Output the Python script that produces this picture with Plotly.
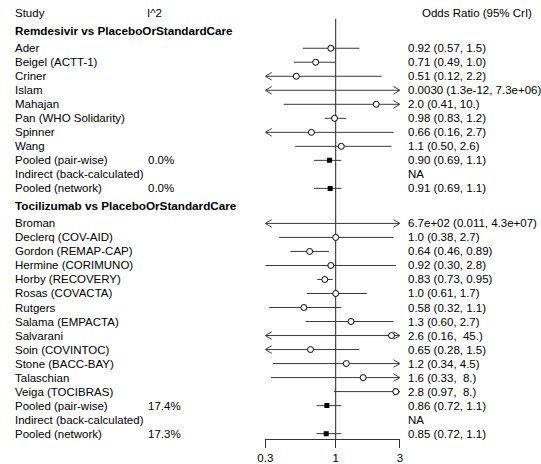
import math
import plotly.graph_objects as go

# ---------------- data ----------------
remd_studies = ["Ader", "Beigel (ACTT-1)", "Criner", "Islam", "Mahajan",
                "Pan (WHO Solidarity)", "Spinner", "Wang",
                "Pooled (pair-wise)", "Indirect (back-calculated)", "Pooled (network)"]
remd_or = [0.92, 0.71, 0.51, 0.0030, 2.0, 0.98, 0.66, 1.1, 0.90, None, 0.91]
remd_lo = [0.57, 0.49, 0.12, 1.3e-12, 0.41, 0.83, 0.16, 0.50, 0.69, None, 0.69]
remd_hi = [1.5, 1.0, 2.2, 7.3e6, 10.0, 1.2, 2.7, 2.6, 1.1, None, 1.1]
remd_i2 = ["", "", "", "", "", "", "", "", "0.0%", "", "0.0%"]
remd_txt = ["0.92 (0.57, 1.5)", "0.71 (0.49, 1.0)", "0.51 (0.12, 2.2)",
            "0.0030 (1.3e-12, 7.3e+06)", "2.0 (0.41, 10.)", "0.98 (0.83, 1.2)",
            "0.66 (0.16, 2.7)", "1.1 (0.50, 2.6)", "0.90 (0.69, 1.1)", "NA",
            "0.91 (0.69, 1.1)"]
remd_kind = ["study"] * 8 + ["pooled", "none", "pooled"]

toci_studies = ["Broman", "Declerq (COV-AID)", "Gordon (REMAP-CAP)", "Hermine (CORIMUNO)",
                "Horby (RECOVERY)", "Rosas (COVACTA)", "Rutgers", "Salama (EMPACTA)",
                "Salvarani", "Soin (COVINTOC)", "Stone (BACC-BAY)", "Talaschian",
                "Veiga (TOCIBRAS)", "Pooled (pair-wise)", "Indirect (back-calculated)",
                "Pooled (network)"]
toci_or = [670.0, 1.0, 0.64, 0.92, 0.83, 1.0, 0.58, 1.3, 2.6, 0.65, 1.2, 1.6, 2.8, 0.86, None, 0.85]
toci_lo = [0.011, 0.38, 0.46, 0.30, 0.73, 0.61, 0.32, 0.60, 0.16, 0.28, 0.34, 0.33, 0.97, 0.72, None, 0.72]
toci_hi = [4.3e7, 2.7, 0.89, 2.8, 0.95, 1.7, 1.1, 2.7, 45.0, 1.5, 4.5, 8.0, 8.0, 1.1, None, 1.1]
toci_i2 = [""] * 13 + ["17.4%", "", "17.3%"]
toci_txt = ["6.7e+02 (0.011, 4.3e+07)", "1.0 (0.38, 2.7)", "0.64 (0.46, 0.89)",
            "0.92 (0.30, 2.8)", "0.83 (0.73, 0.95)", "1.0 (0.61, 1.7)", "0.58 (0.32, 1.1)",
            "1.3 (0.60, 2.7)", "2.6 (0.16,\u00a0\u00a045.)", "0.65 (0.28, 1.5)",
            "1.2 (0.34, 4.5)", "1.6 (0.33,\u00a0\u00a08.)", "2.8 (0.97,\u00a0\u00a08.)",
            "0.86 (0.72, 1.1)", "NA", "0.85 (0.72, 1.1)"]
toci_kind = ["study"] * 13 + ["pooled", "none", "pooled"]

groups = [
    ("Remdesivir vs PlaceboOrStandardCare", remd_studies, remd_or, remd_lo, remd_hi, remd_i2, remd_txt, remd_kind),
    ("Tocilizumab vs PlaceboOrStandardCare", toci_studies, toci_or, toci_lo, toci_hi, toci_i2, toci_txt, toci_kind),
]

x_ticks = [0.3, 1, 3]
x_tick_labels = ["0.3", "1", "3"]
x_min, x_max = 0.3, 3.0

# ---------------- layout constants ----------------
W, H = 541, 464
FONT = "Liberation Sans, Arial, sans-serif"
FS = 11.5
FS_BOLD = 11.7
HEADER_GAP = 1.25
PX_PER_ROW = 14.11
TOP_PX = 13.3
BOTTOM_MARGIN = 22
x_left_px, x_right_px = 262.7, 400.0
col_study_px, col_i2_px, col_or_px = 7.0, 143.0, 408.0
ARROW_DX = 10 ** (6.5 / (x_right_px - x_left_px))  # ~6.5 px in log scale
ARROW_DY = 0.27

plot_h = H - BOTTOM_MARGIN
y_top = -TOP_PX / PX_PER_ROW
y_bot = (plot_h - TOP_PX) / PX_PER_ROW

annotations = []
def txt(xpx, y, s, bold=False):
    annotations.append(dict(
        x=xpx / W, xref="paper", y=y, yref="y", text=("<b>%s</b>" % s) if bold else s,
        showarrow=False, xanchor="left", yanchor="middle", borderpad=0, borderwidth=0,
        font=dict(family=FONT, size=FS_BOLD if bold else FS, color="black")))

# header row
y = 0.0
txt(col_study_px, y, "Study")
txt(col_i2_px - 1, y, "I^2")
txt(col_or_px + 14.5, y, "Odds Ratio (95% CrI)")

ci_x, ci_y = [], []
arr_x, arr_y = [], []
st_x, st_y = [], []
pl_x, pl_y = [], []

for (title, names, ors, los, his, i2s, txts, kinds) in groups:
    y += HEADER_GAP
    txt(col_study_px, y, title, bold=True)
    y += HEADER_GAP
    for i, name in enumerate(names):
        if i > 0:
            y += 1
        txt(col_study_px, y, name)
        if i2s[i]:
            txt(col_i2_px, y, i2s[i])
        txt(col_or_px, y, txts[i])
        if kinds[i] == "none" or ors[i] is None:
            continue
        lo = max(los[i], x_min)
        hi = min(his[i], x_max)
        ci_x += [lo, hi, None]
        ci_y += [y, y, None]
        if los[i] < x_min:
            arr_x += [lo * ARROW_DX, lo, lo * ARROW_DX, None]
            arr_y += [y - ARROW_DY, y, y + ARROW_DY, None]
        if his[i] > x_max:
            arr_x += [hi / ARROW_DX, hi, hi / ARROW_DX, None]
            arr_y += [y - ARROW_DY, y, y + ARROW_DY, None]
        if x_min <= ors[i] <= x_max:
            if kinds[i] == "study":
                st_x.append(ors[i]); st_y.append(y)
            else:
                pl_x.append(ors[i]); pl_y.append(y)

fig = go.Figure()
LC = "#3a3a3a"
fig.add_trace(go.Scatter(x=[1, 1], y=[0.4, y_bot], mode="lines",
                         line=dict(color="#222222", width=1), hoverinfo="skip"))
fig.add_trace(go.Scatter(x=ci_x, y=ci_y, mode="lines", line=dict(color=LC, width=1),
                         hoverinfo="skip"))
fig.add_trace(go.Scatter(x=arr_x, y=arr_y, mode="lines", line=dict(color=LC, width=1),
                         hoverinfo="skip"))
fig.add_trace(go.Scatter(x=st_x, y=st_y, mode="markers",
                         marker=dict(symbol="circle", size=6, color="white",
                                     line=dict(color="black", width=1)), hoverinfo="skip"))
fig.add_trace(go.Scatter(x=pl_x, y=pl_y, mode="markers",
                         marker=dict(symbol="square", size=5, color="black",
                                     line=dict(color="black", width=0)), hoverinfo="skip"))

fig.update_layout(
    width=W, height=H, showlegend=False,
    margin=dict(l=0, r=0, t=0, b=BOTTOM_MARGIN, pad=0),
    paper_bgcolor="white", plot_bgcolor="white",
    font=dict(family=FONT, size=FS, color="black"),
    annotations=annotations,
    xaxis=dict(type="log", range=[math.log10(x_min), math.log10(x_max)],
               domain=[x_left_px / W, x_right_px / W],
               showgrid=False, zeroline=False, showline=True, linecolor="#333333", linewidth=1,
               ticks="outside", ticklen=8, tickcolor="#333333", tickwidth=1,
               tickvals=x_ticks, ticktext=x_tick_labels,
               tickfont=dict(family=FONT, size=FS, color="black")),
    yaxis=dict(range=[y_bot, y_top], visible=False, showgrid=False, zeroline=False),
)

fig.write_html("out.html", config={"displayModeBar": False, "staticPlot": True},
               post_script="document.body.style.margin='0';document.body.style.overflow='hidden';")
